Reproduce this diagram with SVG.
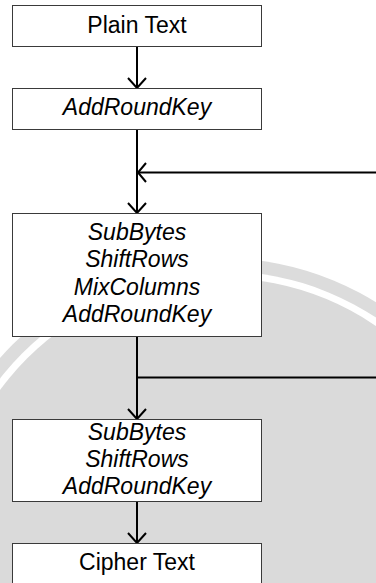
<svg xmlns="http://www.w3.org/2000/svg" width="376" height="583" viewBox="0 0 376 583">
  <style>
    .box { fill: #ffffff; stroke: #3a3a3a; stroke-width: 1; }
    .lbl { font-family: "Liberation Sans", Arial, sans-serif; font-size: 23px; fill: #000000; text-anchor: middle; }
    .it { font-style: italic; }
    .conn { fill: none; stroke: #000000; stroke-width: 2; }
    .head { fill: none; stroke: #000000; stroke-width: 2; stroke-linejoin: miter; }
  </style>
  <defs>
    <clipPath id="page"><rect x="0" y="0" width="376" height="583"/></clipPath>
  </defs>
  <rect x="0" y="0" width="376" height="583" fill="#ffffff"/>
  <g id="background" clip-path="url(#page)">
    <circle cx="221" cy="552" r="294" fill="#dcdcdc"/>
    <circle cx="221" cy="552" r="281" fill="#ffffff"/>
    <circle cx="221" cy="552" r="274" fill="#dadada"/>
  </g>
  <g id="connectors">
    <line class="conn" x1="137" y1="46" x2="137" y2="88"/>
    <polyline class="head" points="128,78 137,88 146,78"/>
    <line class="conn" x1="137" y1="129" x2="137" y2="213"/>
    <line class="conn" x1="138" y1="172.5" x2="376" y2="172.5"/>
    <polyline class="head" points="146,163 138,172.5 146,182"/>
    <polyline class="head" points="128,203 137,213 146,203"/>
    <line class="conn" x1="137" y1="337" x2="137" y2="419"/>
    <line class="conn" x1="137" y1="377.5" x2="376" y2="377.5"/>
    <polyline class="head" points="128,409 137,419 146,409"/>
    <line class="conn" x1="137" y1="502" x2="137" y2="543"/>
    <polyline class="head" points="128,533 137,543 146,533"/>
  </g>
  <g id="plain-text">
    <rect class="box" x="12.5" y="5.5" width="249" height="41"/>
    <text class="lbl" x="137" y="33">Plain Text</text>
  </g>
  <g id="initial-round">
    <rect class="box" x="12.5" y="88.5" width="249" height="41"/>
    <text class="lbl it" x="137" y="115">AddRoundKey</text>
  </g>
  <g id="main-rounds">
    <rect class="box" x="12.5" y="213.5" width="249" height="123"/>
    <text class="lbl it" x="137" y="239.5">SubBytes</text>
    <text class="lbl it" x="137" y="267">ShiftRows</text>
    <text class="lbl it" x="137" y="294.5">MixColumns</text>
    <text class="lbl it" x="137" y="322">AddRoundKey</text>
  </g>
  <g id="final-round">
    <rect class="box" x="12.5" y="419.5" width="249" height="82"/>
    <text class="lbl it" x="137" y="439.5">SubBytes</text>
    <text class="lbl it" x="137" y="467">ShiftRows</text>
    <text class="lbl it" x="137" y="494">AddRoundKey</text>
  </g>
  <g id="cipher-text">
    <rect class="box" x="12.5" y="543.5" width="249" height="60"/>
    <text class="lbl" x="137" y="570">Cipher Text</text>
  </g>
</svg>
